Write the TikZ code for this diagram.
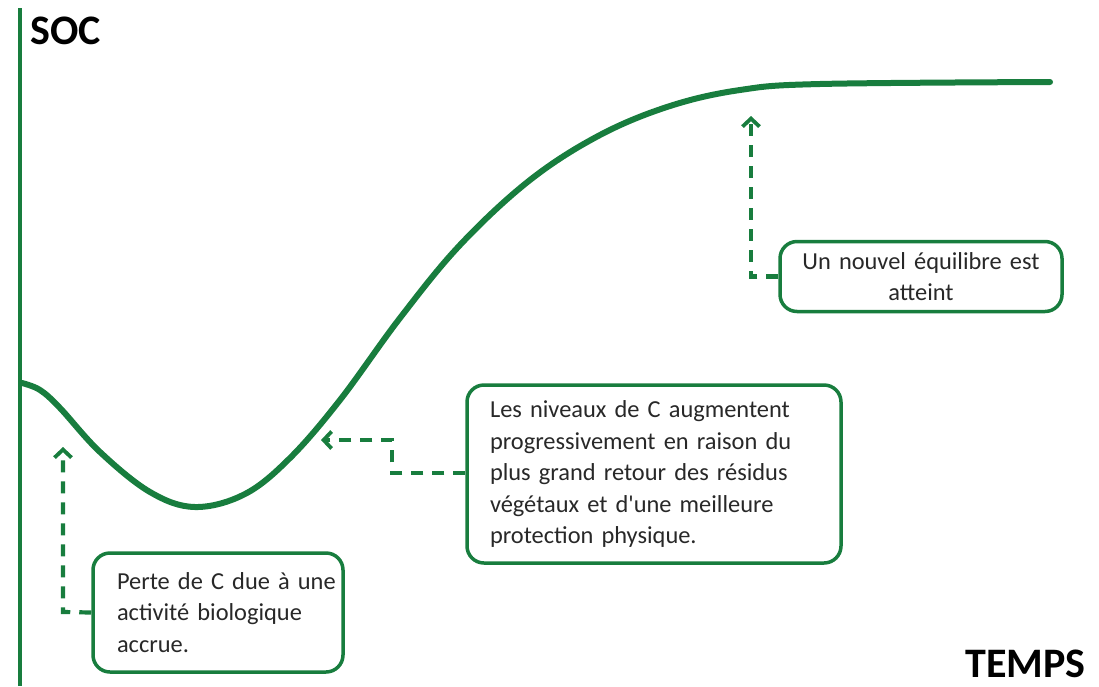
\documentclass[tikz,border=0pt]{standalone}
\usepackage{fontspec}
\setmainfont{Carlito}
\usetikzlibrary{arrows.meta}
\definecolor{lgreen}{RGB}{24,125,62}
\definecolor{txtgray}{RGB}{40,40,40}
\tikzset{
  x=1pt, y=-1pt,
  boxstyle/.style={draw=lgreen, line width=3.5pt, rounded corners=17pt, fill=white,
    font=\fontsize{24.4}{31.5}\selectfont, text=txtgray, inner sep=0pt},
  callout/.style={draw=lgreen, line width=4.2pt, dash pattern=on 12pt off 9pt,
    -{Straight Barb[length=8pt,width=17pt,line width=3.8pt]}},
  curvestyle/.style={draw=lgreen, line width=6pt, line cap=round},
  axislabel/.style={font=\fontsize{42}{42}\bfseries\selectfont, text=black, inner sep=0pt}
}
\begin{document}
\begin{tikzpicture}
\useasboundingbox (0,0) rectangle (1099,686);
% axis
\coordinate (atop) at (20,8);
\coordinate (abot) at (20,686);
\draw[lgreen, line width=3.5pt] (atop) -- (abot);
\node[axislabel, anchor=base west] (soc) at (30,44) {SOC};
\node[axislabel, anchor=base east] (temps) at (1086,677) {TEMPS};
% curve
\draw[curvestyle] plot[smooth, tension=0.6] coordinates {
 (22,383) (40,390) (60,408) (100,452) (150,492) (195,507) (245,494) (290,458)
 (340,400) (400,318) (460,245) (530,180) (600,135) (670,106) (740,90)
 (820,84) (1050,82)};
% boxes
\node[boxstyle, minimum width=250pt, minimum height=119pt, text width=202pt, align=left]
  (b1) at (218,612.5) {\mbox{Perte de C due à une}\\\mbox{activité biologique}\\\mbox{accrue.}};
\node[boxstyle, minimum width=374pt, minimum height=178pt, text width=328pt, align=left]
  (b2) at (654,474) {\mbox{Les niveaux de C augmentent}\\\mbox{progressivement en raison du}\\\mbox{plus grand retour des résidus}\\\mbox{végétaux et d\textquotesingle une meilleure}\\\mbox{protection physique.}};
\node[boxstyle, minimum width=282pt, minimum height=70pt, text width=270pt, align=center]
  (b3) at (921,276.5) {\mbox{Un nouvel équilibre est}\\\mbox{atteint}};
% callouts
\coordinate (t1) at (63,447);
\coordinate (c1) at (63,612);
\draw[callout] (b1.west) -- (c1) -- (t1);
\coordinate (t2) at (321,440);
\coordinate (c2a) at (392,473);
\coordinate (c2b) at (392,440);
\draw[callout] (b2.west |- c2a) -- (c2a) -- (c2b) -- (t2);
\coordinate (t3) at (751,116);
\coordinate (c3) at (751,276.5);
\draw[callout] (b3.west) -- (c3) -- (t3);
\end{tikzpicture}
\end{document}
